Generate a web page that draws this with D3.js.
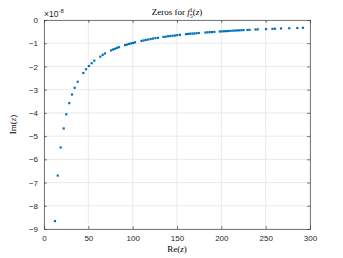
<!DOCTYPE html>
<html><head><meta charset="utf-8">
<script src="https://cdn.jsdelivr.net/npm/d3@7"></script>
<style>body{margin:0;background:#fff}svg{display:block}</style>
</head><body>
<script>
const reValues = [12.4,15.5,18.8,22.2,25.1,28.5,31.6,34.6,38.0,44.3,47.4,50.7,53.8,56.7,63.5,66.2,68.8,
75.6,77.8,80.1,82.3,84.6,91.4,93.6,95.8,98.1,100.4,102.6,110.0,112.4,115.0,117.6,120.3,122.9,125.7,128.6,
134.8,137.2,139.8,142.4,145.0,147.7,150.3,153.4,160.1,162.4,164.7,167.3,169.5,172.0,174.6,
182.1,184.4,186.9,189.5,192.1,198.2,200.5,202.9,205.3,207.7,210.2,212.7,215.2,217.7,220.1,222.6,225.0,
229.5,231.8,238.5,241.0,250.4,257.7,260.5,267.3,276.6,285.7,292.1];
const imValues = [-8.66,-6.70,-5.49,-4.67,-4.06,-3.58,-3.21,-2.92,-2.66,-2.28,-2.12,-1.98,-1.86,-1.75,-1.58,-1.50,-1.44,
-1.31,-1.27,-1.24,-1.20,-1.17,-1.08,-1.06,-1.03,-1.01,-0.99,-0.96,-0.90,-0.88,-0.86,-0.84,-0.82,-0.80,-0.78,-0.77,
-0.73,-0.72,-0.70,-0.69,-0.68,-0.67,-0.65,-0.64,-0.61,-0.60,-0.59,-0.585,-0.58,-0.57,-0.56,
-0.54,-0.53,-0.525,-0.52,-0.51,-0.495,-0.49,-0.485,-0.48,-0.475,-0.47,-0.46,-0.455,-0.45,-0.445,-0.44,-0.435,
-0.43,-0.425,-0.41,-0.405,-0.39,-0.38,-0.375,-0.365,-0.355,-0.345,-0.335];
const xTicks = [0,50,100,150,200,250,300];
const yTicks = [0,-1,-2,-3,-4,-5,-6,-7,-8,-9];

const W=343,H=258;
const L=44,R=310,T=20,B=229;
const svg=d3.select("body").append("svg").attr("width",W).attr("height",H);
const x=d3.scaleLinear().domain([0,300]).range([L,R]);
const y=d3.scaleLinear().domain([-9,0]).range([B,T]);
const axC="#262626", sans="'Liberation Sans',Arial,sans-serif", serif="'Liberation Serif','Times New Roman',serif";

// grid
const g=svg.append("g");
g.selectAll(".gx").data(xTicks).join("line").attr("x1",d=>x(d)).attr("x2",d=>x(d)).attr("y1",T).attr("y2",B)
 .attr("stroke","#dcdcdc").attr("stroke-width",0.6);
g.selectAll(".gy").data(yTicks).join("line").attr("y1",d=>y(d)).attr("y2",d=>y(d)).attr("x1",L).attr("x2",R)
 .attr("stroke","#dcdcdc").attr("stroke-width",0.6);

// axes
const xa=svg.append("g").attr("transform",`translate(0,${B})`).call(d3.axisBottom(x).tickValues(xTicks).tickSizeInner(-3).tickSizeOuter(0).tickPadding(6));
const xt=svg.append("g").attr("transform",`translate(0,${T})`).call(d3.axisTop(x).tickValues(xTicks).tickSizeInner(-3).tickSizeOuter(0).tickFormat(""));
const ya=svg.append("g").attr("transform",`translate(${L},0)`).call(d3.axisLeft(y).tickValues(yTicks).tickSizeInner(-3).tickSizeOuter(0).tickPadding(6).tickFormat(d3.format("d")));
const yr=svg.append("g").attr("transform",`translate(${R},0)`).call(d3.axisRight(y).tickValues(yTicks).tickSizeInner(-3).tickSizeOuter(0).tickFormat(""));
[xa,xt,ya,yr].forEach(a=>{a.selectAll("path,line").attr("stroke",axC).attr("stroke-width",0.6);
 a.selectAll("text").attr("fill",axC).style("font-family",sans).style("font-size","8px");});

// points
svg.append("g").selectAll("rect").data(reValues.map((v,i)=>[v,imValues[i]])).join("rect")
 .attr("x",d=>x(d[0])-1.1).attr("y",d=>y(d[1])-1.1).attr("width",2.2).attr("height",2.2).attr("fill","#0072BD");

// exponent
const ex=svg.append("text").attr("x",L).attr("y",17).attr("fill",axC).style("font-family",sans).style("font-size","8.5px");
ex.append("tspan").text("×10");
ex.append("tspan").attr("dy",-4.5).style("font-size","6px").text("-8");

// title
const t=svg.append("text").attr("x",(L+R)/2).attr("y",15).attr("text-anchor","middle").attr("fill","#000").style("font-family",serif).style("font-size","9px");
t.append("tspan").text("Zeros for ");
t.append("tspan").style("font-style","italic").text("f");
t.append("tspan").attr("dy",-3.5).style("font-size","6px").text("1");
t.append("tspan").attr("dx",-3).attr("dy",6).style("font-size","6px").text("5");
t.append("tspan").attr("dy",-2.5).text("(");
t.append("tspan").style("font-style","italic").text("z");
t.append("tspan").text(")");

// xlabel
const xl=svg.append("text").attr("x",(L+R)/2).attr("y",252).attr("text-anchor","middle").style("font-family",serif).style("font-size","9px").attr("fill","#000");
xl.append("tspan").text("Re(");xl.append("tspan").style("font-style","italic").text("z");xl.append("tspan").text(")");
const yl=svg.append("text").attr("transform",`translate(16,${(T+B)/2}) rotate(-90)`).attr("text-anchor","middle").style("font-family",serif).style("font-size","9px").attr("fill","#000");
yl.append("tspan").text("Im(");yl.append("tspan").style("font-style","italic").text("z");yl.append("tspan").text(")");
</script>
</body></html>
